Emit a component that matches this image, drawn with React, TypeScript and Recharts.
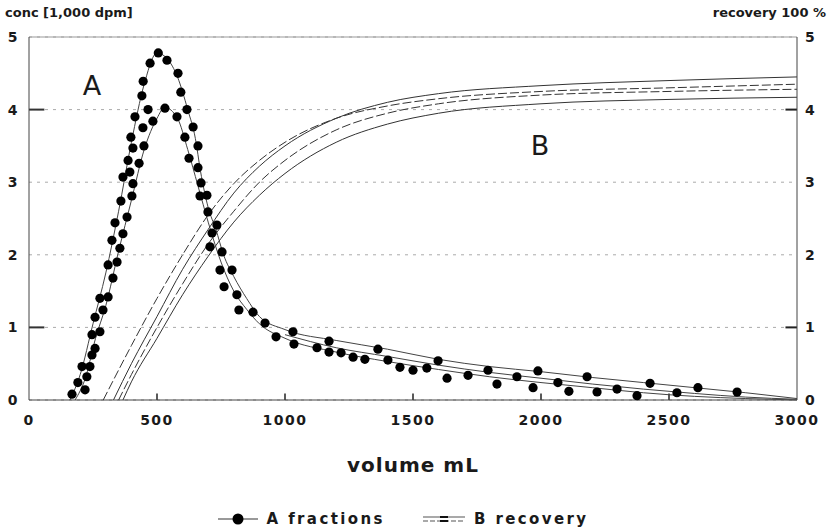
import {
  ComposedChart,
  CartesianGrid,
  Legend,
  Line,
  ReferenceDot,
  ReferenceLine,
  Scatter,
  XAxis,
  YAxis,
} from 'recharts';

// volume (mL), conc (1,000 dpm)
const dotsA1: [number, number][] = [
  [168, 0.08], [191, 0.24], [207, 0.46], [246, 0.9], [258, 1.14], [277, 1.4],
  [309, 1.86], [324, 2.2], [336, 2.44], [359, 2.74], [367, 3.07], [387, 3.3],
  [398, 3.62], [406, 3.47], [414, 3.9], [441, 4.19], [446, 4.39], [473, 4.64],
  [505, 4.78], [539, 4.68], [582, 4.5], [593, 4.24], [617, 4.0], [641, 3.76],
  [660, 3.5], [660, 3.2], [672, 2.99], [695, 2.82], [734, 2.41], [754, 2.04],
  [793, 1.79], [812, 1.45], [875, 1.21], [922, 1.06], [1031, 0.94], [1172, 0.81],
  [1363, 0.7], [1598, 0.54], [1793, 0.41], [1988, 0.4], [2180, 0.32], [2426, 0.23],
  [2613, 0.17], [2766, 0.11],
];

const dotsA2: [number, number][] = [
  [219, 0.14], [226, 0.32], [238, 0.46], [246, 0.62], [258, 0.71], [277, 0.94],
  [289, 1.24], [309, 1.42], [328, 1.68], [344, 1.9], [355, 2.09], [367, 2.29],
  [383, 2.52], [394, 3.14], [402, 2.81], [406, 2.98], [430, 3.26], [445, 3.75],
  [449, 3.5], [465, 4.0], [484, 3.84], [531, 4.02], [578, 3.9], [609, 3.62],
  [625, 3.33], [668, 2.81], [699, 2.59], [707, 2.11], [715, 2.3], [746, 1.79],
  [762, 1.56], [820, 1.24], [965, 0.87], [1035, 0.77], [1125, 0.72], [1172, 0.66],
  [1219, 0.65], [1266, 0.59], [1312, 0.56], [1402, 0.55], [1449, 0.45], [1500, 0.41],
  [1554, 0.44], [1633, 0.3], [1715, 0.34], [1828, 0.22], [1906, 0.32], [1969, 0.17],
  [2066, 0.24], [2109, 0.12], [2219, 0.11], [2297, 0.15], [2375, 0.06], [2531, 0.1],
];

// fitted elution curves
const fitA1: [number, number][] = [
  [160, 0], [200, 0.35], [250, 1.05], [300, 1.75], [350, 2.6], [400, 3.55],
  [450, 4.35], [500, 4.78], [540, 4.7], [580, 4.45], [620, 4.0], [650, 3.6],
  [670, 3.15], [700, 2.65], [730, 2.35], [760, 2.0], [800, 1.7], [850, 1.4],
  [900, 1.15], [1000, 0.97], [1200, 0.82], [1400, 0.7], [1600, 0.56], [1800, 0.46],
  [2000, 0.39], [2200, 0.31], [2400, 0.24], [2600, 0.17], [2800, 0.1], [3000, 0.02],
];

const fitA2: [number, number][] = [
  [180, 0], [220, 0.3], [260, 0.85], [300, 1.3], [350, 2.05], [400, 2.75],
  [450, 3.45], [500, 3.88], [530, 4.03], [580, 3.88], [620, 3.45], [660, 2.95],
  [700, 2.45], [750, 1.9], [800, 1.5], [850, 1.25], [900, 1.05], [1000, 0.85],
  [1200, 0.66], [1400, 0.53], [1600, 0.42], [1800, 0.32], [2000, 0.24], [2200, 0.17],
  [2400, 0.1], [2600, 0.05], [2800, 0.02], [3000, 0],
];

const fitA3: [number, number][] = [
  [1000, 0.9], [1200, 0.72], [1400, 0.6], [1600, 0.48], [1800, 0.38], [2000, 0.3],
  [2200, 0.22], [2400, 0.15], [2600, 0.09], [2800, 0.04], [3000, 0.01],
];

// recovery curves (x 100 %)
const recB1: [number, number][] = [
  [290, 0], [400, 0.75], [500, 1.4], [600, 2.0], [700, 2.55], [800, 2.98], [900, 3.3],
  [1000, 3.55], [1200, 3.88], [1400, 4.05], [1600, 4.15], [2000, 4.25], [2500, 4.3], [3000, 4.35],
];
const recB2: [number, number][] = [
  [330, 0], [400, 0.5], [500, 1.15], [600, 1.8], [700, 2.35], [800, 2.85], [900, 3.22],
  [1000, 3.5], [1200, 3.88], [1400, 4.1], [1600, 4.22], [2000, 4.33], [2500, 4.4], [3000, 4.45],
];
const recB3: [number, number][] = [
  [350, 0], [400, 0.35], [500, 1.0], [600, 1.6], [700, 2.15], [800, 2.6], [900, 3.0],
  [1000, 3.3], [1200, 3.72], [1400, 3.95], [1600, 4.08], [2000, 4.2], [2500, 4.25], [3000, 4.28],
];
const recB4: [number, number][] = [
  [367, 0], [400, 0.25], [500, 0.85], [600, 1.45], [700, 1.98], [800, 2.45], [900, 2.82],
  [1000, 3.12], [1200, 3.55], [1400, 3.8], [1600, 3.95], [2000, 4.08], [2500, 4.14], [3000, 4.17],
];

const xTicks = [0, 500, 1000, 1500, 2000, 2500, 3000];
const yTicks = [0, 1, 2, 3, 4, 5];

const pts = (arr: [number, number][]) => arr.map(([x, y]) => ({ x, y }));

const font = '"DejaVu Sans", "Liberation Sans", Arial, sans-serif';
const ink = '#1a1a1a';
const tickStyle = { fill: ink, fontSize: 14, fontFamily: font, fontWeight: 'bold', letterSpacing: 1.5 };

const LegendBox = () => (
  <div style={{ display: 'flex', justifyContent: 'center', alignItems: 'center', gap: 38, fontFamily: font, fontSize: 15, fontWeight: 'bold', letterSpacing: 2.4, color: ink, paddingRight: 24, marginTop: 6 }}>
    <span style={{ display: 'flex', alignItems: 'center' }}>
      <svg width="40" height="14">
        <line x1="0" y1="7" x2="40" y2="7" stroke="#777" strokeWidth="1.5" />
        <circle cx="20" cy="7" r="5.5" fill="#000" />
      </svg>
      <span style={{ marginLeft: 9 }}>A fractions</span>
    </span>
    <span style={{ display: 'flex', alignItems: 'center' }}>
      <svg width="42" height="14">
        <line x1="0" y1="5" x2="42" y2="5" stroke="#555" strokeWidth="1.2" />
        <line x1="0" y1="9" x2="42" y2="9" stroke="#555" strokeWidth="1.2" strokeDasharray="5 2" />
        <line x1="17" y1="5" x2="25" y2="5" stroke="#111" strokeWidth="2" />
        <line x1="17" y1="9" x2="25" y2="9" stroke="#111" strokeWidth="2" />
      </svg>
      <span style={{ marginLeft: 9 }}>B recovery</span>
    </span>
  </div>
);

export default function App() {
  return (
    <div style={{ position: 'absolute', left: 0, top: 0, background: '#fff' }}>
      <ComposedChart width={830} height={530} margin={{ top: 37, right: 0, left: 0, bottom: 0 }}>
        <CartesianGrid vertical={false} stroke="#aaa" strokeDasharray="3 5" yAxisId="left" />
        <XAxis
          type="number"
          dataKey="x"
          domain={[0, 3000]}
          ticks={xTicks}
          allowDataOverflow
          height={104}
          tickLine={false}
          tickSize={0}
          tickMargin={15}
          stroke="#444"
          tick={tickStyle}
          label={{ value: 'volume mL', position: 'insideBottom', offset: 32, fill: ink, fontSize: 20, fontFamily: font, fontWeight: 'bold', letterSpacing: 1 }}
        />
        <YAxis
          yAxisId="left"
          dataKey="y"
          domain={[0, 5]}
          ticks={yTicks}
          width={29}
          tickLine={false}
          tickSize={0}
          tickMargin={10}
          stroke="#444"
          tick={tickStyle}
          label={{
            content: () => (
              <text x={5} y={17} fill={ink} fontSize={13} fontWeight="bold" fontFamily={font}>conc [1,000 dpm]</text>
            ),
          }}
        />
        <YAxis
          yAxisId="right"
          orientation="right"
          dataKey="y"
          domain={[0, 5]}
          ticks={yTicks}
          width={33}
          tickLine={false}
          tickSize={0}
          tickMargin={8}
          stroke="#444"
          tick={tickStyle}
          label={{
            content: () => (
              <text x={826} y={17} textAnchor="end" fill={ink} fontSize={13} fontWeight="bold" fontFamily={font}>recovery 100 %</text>
            ),
          }}
        />
        <ReferenceLine yAxisId="left" y={5} stroke="#999" strokeWidth={1} />
        {xTicks.slice(1, -1).map((t) => (
          <ReferenceLine key={t} yAxisId="left" segment={[{ x: t, y: 0 }, { x: t, y: 0.09 }]} stroke="#222" strokeWidth={1.5} />
        ))}
        {[1, 4].map((t) => (
          <ReferenceLine key={'r' + t} yAxisId="right" segment={[{ x: 2955, y: t }, { x: 3000, y: t }]} stroke="#222" strokeWidth={2} />
        ))}
        {[1, 4].map((t) => (
          <ReferenceLine key={'l' + t} yAxisId="left" segment={[{ x: 0, y: t }, { x: 60, y: t }]} stroke="#333" strokeWidth={2} />
        ))}

        <Line yAxisId="right" data={pts(recB1)} dataKey="y" type="monotone" stroke="#333" strokeWidth={1} strokeDasharray="9 3" dot={false} isAnimationActive={false} />
        <Line yAxisId="right" data={pts(recB2)} dataKey="y" type="monotone" stroke="#333" strokeWidth={1} dot={false} isAnimationActive={false} />
        <Line yAxisId="right" data={pts(recB3)} dataKey="y" type="monotone" stroke="#333" strokeWidth={1} strokeDasharray="9 3" dot={false} isAnimationActive={false} />
        <Line yAxisId="right" data={pts(recB4)} dataKey="y" type="monotone" stroke="#333" strokeWidth={1} dot={false} isAnimationActive={false} />

        <Line yAxisId="left" data={pts(fitA1)} dataKey="y" type="monotone" stroke="#444" strokeWidth={1} dot={false} isAnimationActive={false} />
        <Line yAxisId="left" data={pts(fitA2)} dataKey="y" type="monotone" stroke="#444" strokeWidth={1} dot={false} isAnimationActive={false} />
        <Line yAxisId="left" data={pts(fitA3)} dataKey="y" type="monotone" stroke="#444" strokeWidth={1} dot={false} isAnimationActive={false} />

        <Scatter yAxisId="left" data={pts(dotsA1)} dataKey="y" fill="#000" shape={(p: any) => <circle cx={p.cx} cy={p.cy} r={4.6} fill="#000" />} isAnimationActive={false} />
        <Scatter yAxisId="left" data={pts(dotsA2)} dataKey="y" fill="#000" shape={(p: any) => <circle cx={p.cx} cy={p.cy} r={4.6} fill="#000" />} isAnimationActive={false} />

        <ReferenceDot yAxisId="left" x={246} y={4.34} r={0} stroke="none" fill="none"
          label={{ value: 'A', position: 'center', fill: ink, fontSize: 27, fontFamily: font }} />
        <ReferenceDot yAxisId="left" x={1996} y={3.51} r={0} stroke="none" fill="none"
          label={{ value: 'B', position: 'center', fill: ink, fontSize: 27, fontFamily: font }} />

        <Legend verticalAlign="bottom" height={26} content={() => <LegendBox />} />
      </ComposedChart>
    </div>
  );
}
